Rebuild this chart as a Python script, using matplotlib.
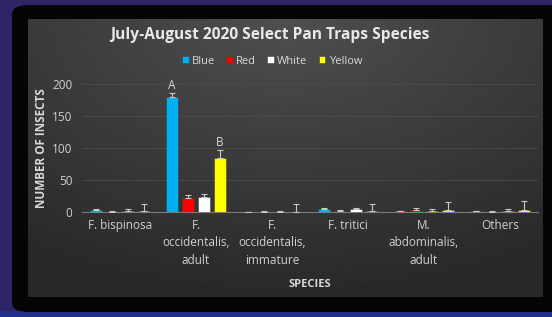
import numpy as np
import matplotlib
matplotlib.use('Agg')
import matplotlib.pyplot as plt
from matplotlib.patches import FancyBboxPatch, Rectangle

categories = ['F. bispinosa', 'F.\noccidentalis,\nadult', 'F.\noccidentalis,\nimmature',
              'F. tritici', 'M.\nabdominalis,\nadult', 'Others']
series = ['Blue', 'Red', 'White', 'Yellow']
colors = ['#00B0F0', '#FF0000', '#FFFFFF', '#FFFF00']

blue = [3, 180, 0, 5, 1, 1]
red = [0, 22, 0, 1, 3, 0]
white = [1, 24, 0, 4, 1, 1]
yellow = [1, 84, 0, 2, 3, 3]

blue_err = [1, 6, 0, 1, 1, 1]
red_err = [2, 5, 2, 2, 3, 2]
white_err = [3, 4, 1, 3, 3, 3]
yellow_err = [12, 13, 12, 11, 12, 14]

letters = {('Blue', 1): 'A', ('Yellow', 1): 'B'}

W, H = 552, 317
fig = plt.figure(figsize=(W / 100, H / 100), dpi=100)
fig.patch.set_facecolor('#2e2467')

# bottom blue strip and black frame
fig.patches.append(Rectangle((0, 0), 1, 6 / H, transform=fig.transFigure,
                             facecolor='#22308a', edgecolor='none', zorder=-3))
fig.patches.append(FancyBboxPatch((12 / W, 1 - 312 / H), 600 / W, 307 / H,
                                  boxstyle='round,pad=0,rounding_size=0.03',
                                  transform=fig.transFigure, facecolor='#050505',
                                  edgecolor='none', zorder=-2))

# gray gradient panel
px0, px1, py0, py1 = 28, 543, 19, 297
bg = fig.add_axes([px0 / W, 1 - py1 / H, (px1 - px0) / W, (py1 - py0) / H], zorder=0)
yy, xx = np.mgrid[0:1:200j, 0:1:300j]
d = np.sqrt(((xx - 0.5) * 1.1) ** 2 + (yy * 1.0) ** 2)
shade = 0.31 - 0.15 * np.clip(d, 0, 1)
bg.imshow(shade, cmap='gray', vmin=0, vmax=1, aspect='auto', extent=[0, 1, 1, 0])
bg.set_axis_off()

ax = fig.add_axes([82 / W, 1 - 212 / H, (538 - 82) / W, (212 - 84) / H], zorder=1)
ax.set_facecolor('none')

x = np.arange(len(categories))
vals = [blue, red, white, yellow]
errs = [blue_err, red_err, white_err, yellow_err]
width = 0.16
offsets = [-0.315, -0.105, 0.105, 0.315]
for name, col, v, e, off in zip(series, colors, vals, errs, offsets):
    ax.bar(x + off, v, width, color=col, edgecolor='#404040', linewidth=0.4,
           label=name, zorder=3)
    ax.errorbar(x + off, v, yerr=[np.zeros(len(e)), e], fmt='none',
                ecolor='#c8c8c8', elinewidth=0.8, capsize=2, capthick=0.8, zorder=4)
    for i in range(len(categories)):
        if (name, i) in letters:
            ax.text(x[i] + off, v[i] + e[i] + 2, letters[(name, i)], ha='center',
                    va='bottom', color='#d8d8d8', fontsize=8.5, family='Open Sans')

ax.set_xlim(-0.5, len(categories) - 0.5)
ax.set_ylim(0, 200)
ax.set_yticks([0, 50, 100, 150, 200])
ax.grid(axis='y', color='#505050', linewidth=0.5, zorder=0)
for s in ['top', 'right', 'left']:
    ax.spines[s].set_visible(False)
ax.spines['bottom'].set_color('#7a7a7a')
ax.tick_params(axis='both', length=0, colors='#d0d0d0', labelsize=8.5)
ax.tick_params(axis='x', pad=5)
ax.tick_params(axis='y', pad=7)
ax.set_xticks(x)
ax.set_xticklabels(categories, linespacing=1.45, family='Open Sans')
for lab in ax.get_yticklabels():
    lab.set_family('Open Sans')

ax.set_ylabel('NUMBER OF INSECTS', color='#d8d8d8', fontsize=8.5, fontweight='bold',
              family='Open Sans', labelpad=3)
ax.set_xlabel('SPECIES', color='#d8d8d8', fontsize=8, fontweight='bold',
              family='Open Sans', labelpad=9)

fig.text(270 / W, 1 - 35 / H, 'July-August 2020 Select Pan Traps Species', ha='center',
         va='center', color='#e8e8e8', fontsize=11.2, fontweight='bold', family='Open Sans')

leg = ax.legend(loc='center', bbox_to_anchor=(272 / W, 1 - 61 / H),
                bbox_transform=fig.transFigure, ncol=4, frameon=False,
                handlelength=0.6, handleheight=0.6, handletextpad=0.3, columnspacing=1.0,
                prop={'family': 'Open Sans', 'size': 8})
for t in leg.get_texts():
    t.set_color('#d8d8d8')

fig.savefig('out.png', dpi=100, facecolor=fig.get_facecolor())
